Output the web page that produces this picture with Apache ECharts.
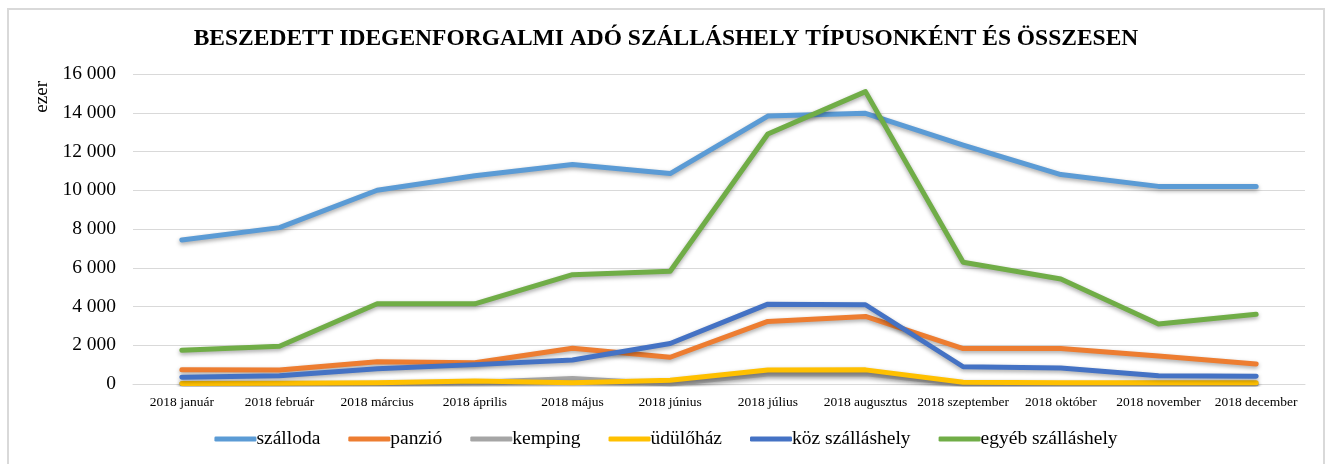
<!DOCTYPE html>
<html>
<head>
<meta charset="utf-8">
<script src="https://cdn.jsdelivr.net/npm/echarts@6/dist/echarts.min.js"></script>
<style>
html,body{margin:0;padding:0;background:#fff;}
#frame{position:absolute;left:7px;top:8px;width:1318px;height:470px;border:2px solid #d9d9d9;box-sizing:border-box;}
#c{position:absolute;left:0;top:0;width:1332px;height:464px;}
</style>
</head>
<body>
<div id="frame"></div>
<div id="c"></div>
<script>
const categories = ['2018 január','2018 február','2018 március','2018 április','2018 május','2018 június','2018 július','2018 augusztus','2018 szeptember','2018 október','2018 november','2018 december'];
const szalloda = [7430, 8070, 10000, 10750, 11330, 10860, 13830, 13970, 12330, 10810, 10200, 10200];
const panzio   = [740, 720, 1150, 1100, 1850, 1380, 3230, 3490, 1830, 1830, 1450, 1030];
const kemping  = [10, 10, 20, 80, 290, 0, 520, 530, 0, 0, 0, 0];
const udulohaz = [30, 40, 60, 150, 60, 190, 720, 730, 90, 60, 60, 60];
const kozSzallas = [345, 430, 790, 1000, 1240, 2090, 4120, 4090, 890, 820, 430, 400];
const egyeb    = [1740, 1950, 4140, 4140, 5640, 5820, 12900, 15090, 6280, 5420, 3100, 3600];
const seriesNames = ['szálloda','panzió','kemping','üdülőház','köz szálláshely','egyéb szálláshely'];
const seriesData = [szalloda, panzio, kemping, udulohaz, kozSzallas, egyeb];
const colors = ['#5B9BD5','#ED7D31','#A5A5A5','#FFC000','#4472C4','#70AD47'];
const yTicks = [0, 2000, 4000, 6000, 8000, 10000, 12000, 14000, 16000];

const chart = echarts.init(document.getElementById('c'), null, {renderer:'canvas'});
const serif = '"Liberation Serif", "DejaVu Serif", serif';
chart.setOption({
  animation: false,
  color: colors,
  title: {
    text: 'BESZEDETT IDEGENFORGALMI ADÓ SZÁLLÁSHELY TÍPUSONKÉNT ÉS ÖSSZESEN',
    left: 'center', top: 22,
    textStyle: {fontFamily: serif, fontWeight: 'bold', fontSize: 23.5, color: '#000'}
  },
  graphic: [{
    type: 'text', left: 33, top: 81, rotation: Math.PI/2,
    style: {text: 'ezer', font: '19px ' + serif, fill: '#000'}
  }],
  legend: {
    bottom: 10, left: 'center', itemWidth: 42, itemHeight: 5, itemGap: 28,
    icon: 'roundRect',
    textStyle: {fontFamily: serif, fontSize: 19.5, color: '#000', padding: [0,0,0,-5]},
    data: seriesNames
  },
  grid: {left: 133, right: 27, top: 74, bottom: 80, containLabel: false},
  xAxis: {
    type: 'category', data: categories, boundaryGap: true,
    axisLine: {lineStyle: {color: '#d9d9d9', width: 1}},
    axisTick: {show: false},
    axisLabel: {fontFamily: serif, fontSize: 13.5, color: '#000', margin: 11, interval: 0}
  },
  yAxis: {
    type: 'value', min: 0, max: 16000, interval: 2000,
    axisLine: {show: false}, axisTick: {show: false},
    splitLine: {lineStyle: {color: '#d9d9d9', width: 1}},
    axisLabel: {fontFamily: serif, fontSize: 19.5, color: '#000', margin: 17,
      formatter: v => String(v).replace(/\B(?=(\d{3})+(?!\d))/g, ' ')}
  },
  series: seriesData.map((d, i) => ({
    name: seriesNames[i], type: 'line', data: d, symbol: 'none',
    lineStyle: {width: 5, color: colors[i], cap: 'round', join: 'round',
      shadowColor: 'rgba(0,0,0,0.35)', shadowBlur: 4, shadowOffsetY: 2},
    itemStyle: {color: colors[i]}
  }))
});
</script>
</body>
</html>
